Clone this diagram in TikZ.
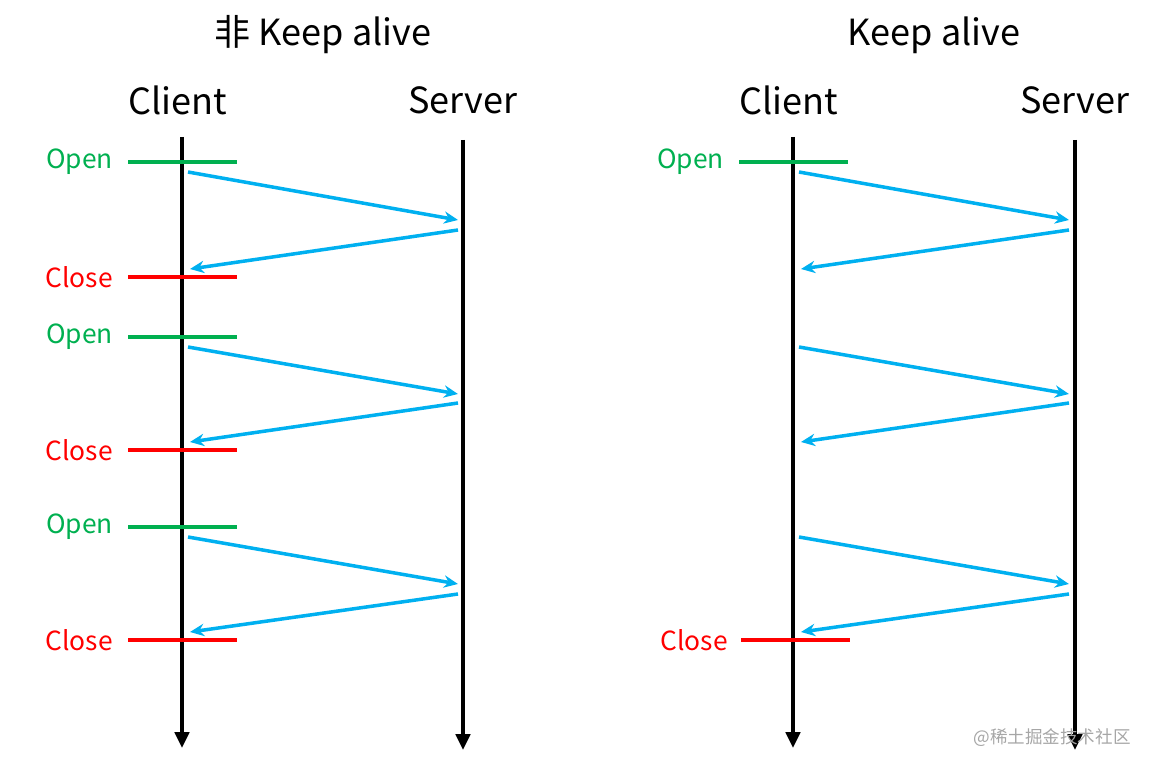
\documentclass[tikz,border=0pt]{standalone}
\usepackage{fontspec}
\setmainfont{Noto Sans CJK SC}
\usetikzlibrary{arrows.meta}
\definecolor{opengreen}{RGB}{0,176,80}
\definecolor{closered}{RGB}{255,0,0}
\definecolor{msgblue}{RGB}{0,176,240}
\begin{document}
\begin{tikzpicture}[x=0.02cm, y=-0.02cm,
    title/.style={font=\fontsize{20.5}{24}\selectfont},
    lifeline/.style={line width=2.6pt, -{Triangle[length=9pt,width=8pt]}},
    tick/.style={line width=2pt},
    tag/.style={font=\fontsize{15}{17}\selectfont, anchor=east},
    msg/.style={msgblue, line width=2pt, -{Stealth[length=8pt,width=7pt]}}
]
\useasboundingbox (0,0) rectangle (1153,770);
% titles
\node[title] (t1) at (323,35) {非 Keep alive};
\node[title] (t2) at (934,35) {Keep alive};
\node[title] (c1) at (178,100) {Client};
\node[title] (s1) at (463,100) {Server};
\node[title] (c2) at (789,100) {Client};
\node[title] (s2) at (1075,100) {Server};
% lifelines
\coordinate (c1t) at (182,137); \coordinate (c1b) at (182,748);
\coordinate (s1t) at (463,140); \coordinate (s1b) at (463,750);
\coordinate (c2t) at (793,137); \coordinate (c2b) at (793,748);
\coordinate (s2t) at (1075,140); \coordinate (s2b) at (1075,750);
\draw[lifeline] (c1t) -- (c1b);
\draw[lifeline] (s1t) -- (s1b);
\draw[lifeline] (c2t) -- (c2b);
\draw[lifeline] (s2t) -- (s2b);
% open / close ticks, left
\foreach \y/\txt/\col [count=\i] in {162/Open/opengreen, 277/Close/closered, 337/Open/opengreen, 450/Close/closered, 527/Open/opengreen, 640/Close/closered} {
  \coordinate (la\i) at (128,\y); \coordinate (lb\i) at (237,\y);
  \draw[tick, \col] (la\i) -- (lb\i);
  \node[tag, text=\col] (lt\i) at (119,\y) {\txt};
}
% open / close ticks, right
\coordinate (ra1) at (739,162); \coordinate (rb1) at (848,162);
\draw[tick, opengreen] (ra1) -- (rb1);
\node[tag, text=opengreen] (rt1) at (730,162) {Open};
\coordinate (ra2) at (741,640); \coordinate (rb2) at (850,640);
\draw[tick, closered] (ra2) -- (rb2);
\node[tag, text=closered] (rt2) at (734,640) {Close};
% messages
\foreach \dx/\s in {0/l, 611/r} {
  \foreach \ya/\yb/\yc/\yd/\k in {172/220/230/269/1, 347/394/403/442/2, 537/584/594/632/3} {
    \coordinate (\s q\k) at (188+\dx,\ya); \coordinate (\s p\k) at (458+\dx,\yb);
    \coordinate (\s u\k) at (458+\dx,\yc); \coordinate (\s v\k) at (190+\dx,\yd);
    \draw[msg] (\s q\k) -- (\s p\k);
    \draw[msg] (\s u\k) -- (\s v\k);
  }
}
\node[text=gray!70, font=\fontsize{10}{12}\selectfont] (wm) at (1052,738) {@稀土掘金技术社区};
\end{tikzpicture}
\end{document}
